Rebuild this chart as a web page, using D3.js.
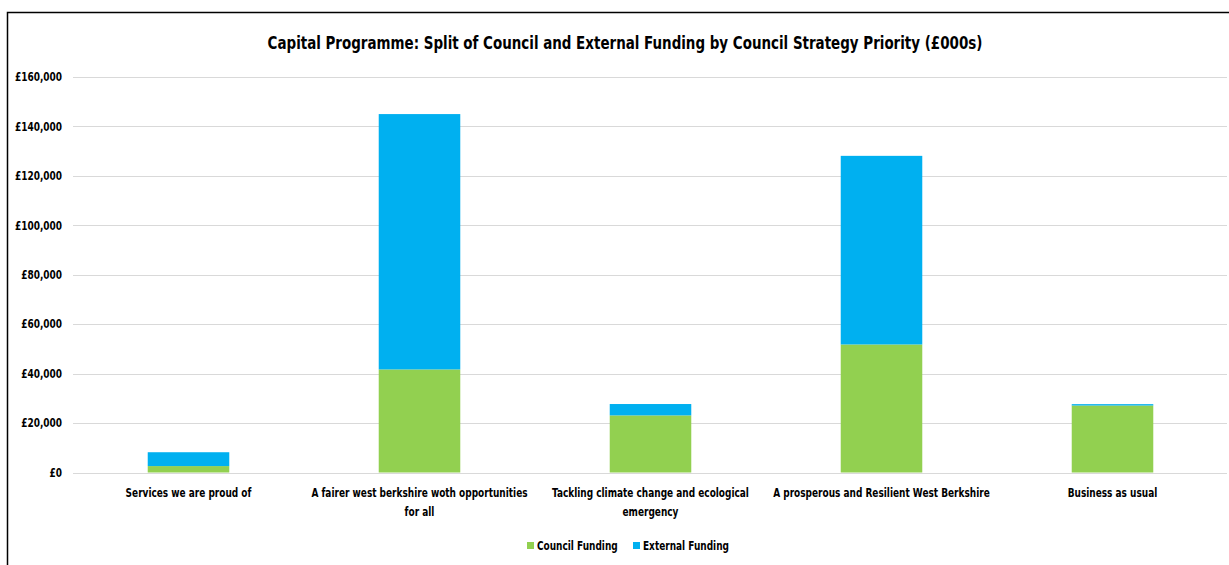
<!DOCTYPE html>
<html>
<head>
<meta charset="utf-8">
<script src="https://cdn.jsdelivr.net/npm/d3@7"></script>
<style>
  html, body { margin: 0; padding: 0; background: #fff; }
  svg { display: block; }
  .txt { font-family: "DejaVu Sans Condensed", "Open Sans", sans-serif; font-weight: bold; fill: #000; }
</style>
</head>
<body>
<svg id="chart" width="1229" height="565"></svg>
<script>
// Capital programme, £000s
const categories = [
  ["Services we are proud of"],
  ["A fairer west berkshire woth opportunities", "for all"],
  ["Tackling climate change and ecological", "emergency"],
  ["A prosperous and Resilient West Berkshire"],
  ["Business as usual"],
];
const councilFunding  = [2600, 41700, 23100, 51800, 27100];
const externalFunding = [5600, 103300, 4600, 76300, 550];
const seriesNames  = ["Council Funding", "External Funding"];
const seriesColors = ["#92D050", "#00B0F0"];
const yTicks = [0, 20000, 40000, 60000, 80000, 100000, 120000, 140000, 160000];

const W = 1229, H = 565;
const margin = { left: 73, right: 1 };
const NARROW = 0.83; // squeeze the condensed face towards Calibri widths

const svg = d3.select("#chart");

// squeeze a text or tspan selection horizontally
function narrow(sel) {
  sel.each(function () {
    const w = this.getComputedTextLength();
    if (w > 0) d3.select(this).attr("textLength", w * NARROW).attr("lengthAdjust", "spacingAndGlyphs");
  });
}

// outer chart frame (left + top)
svg.append("path")
  .attr("d", `M7.5,${H} L7.5,12.5 L${W},12.5`)
  .attr("fill", "none").attr("stroke", "#000").attr("stroke-width", 1.5);

const x = d3.scaleBand()
  .domain(d3.range(categories.length))
  .range([margin.left, W - margin.right])
  .paddingInner(0.647).paddingOuter(0.3235);

const y = d3.scaleLinear().domain([0, 160000]).range([472.5, 77]);

// gridlines
svg.append("g").selectAll("line").data(yTicks).join("line")
  .attr("x1", margin.left).attr("x2", W - 2)
  .attr("y1", (d) => Math.round(y(d)) + 0.5).attr("y2", (d) => Math.round(y(d)) + 0.5)
  .attr("stroke", "#d9d9d9").attr("stroke-width", 1);

// y labels
const fmt = d3.format(",");
svg.append("g").selectAll("text").data(yTicks).join("text")
  .attr("class", "txt")
  .attr("x", 62).attr("y", (d) => y(d))
  .attr("dy", "0.35em")
  .attr("text-anchor", "end")
  .attr("font-size", 12)
  .text((d) => "£" + fmt(d))
  .call(narrow);

// stacked bars
const rows = categories.map((c, i) => ({ i, council: councilFunding[i], external: externalFunding[i] }));
const stack = d3.stack().keys(["council", "external"])(rows);

svg.append("g").selectAll("g").data(stack).join("g")
  .attr("fill", (d, k) => seriesColors[k])
  .selectAll("rect").data((d) => d).join("rect")
    .attr("x", (d) => x(d.data.i))
    .attr("width", x.bandwidth())
    .attr("y", (d) => y(d[1]))
    .attr("height", (d) => y(d[0]) - y(d[1]));

// category labels
const lab = svg.append("g").selectAll("text").data(categories).join("text")
  .attr("class", "txt")
  .attr("font-size", 12)
  .attr("text-anchor", "middle")
  .attr("x", (d, i) => x(i) + x.bandwidth() / 2)
  .attr("y", 497);
lab.selectAll("tspan").data((d) => d).join("tspan")
  .attr("x", function () { return this.parentNode.getAttribute("x"); })
  .attr("dy", (d, j) => (j === 0 ? 0 : 19))
  .text((d) => d)
  .call(narrow);

// title
svg.append("text")
  .attr("class", "txt")
  .attr("x", 625).attr("y", 49)
  .attr("text-anchor", "middle")
  .attr("font-size", 18)
  .text("Capital Programme: Split of Council and External Funding by Council Strategy Priority (£000s)")
  .call(narrow);

// legend
const legendX = [527, 633];
const leg = svg.append("g").selectAll("g").data(seriesNames).join("g")
  .attr("transform", (d, i) => `translate(${legendX[i]},546)`);
leg.append("rect").attr("x", 0).attr("y", -4).attr("width", 7).attr("height", 7)
  .attr("fill", (d, i) => seriesColors[i]);
leg.append("text").attr("class", "txt").attr("font-size", 12)
  .attr("x", 10).attr("y", 0).attr("dy", "0.35em").text((d) => d)
  .call(narrow);
</script>
</body>
</html>
